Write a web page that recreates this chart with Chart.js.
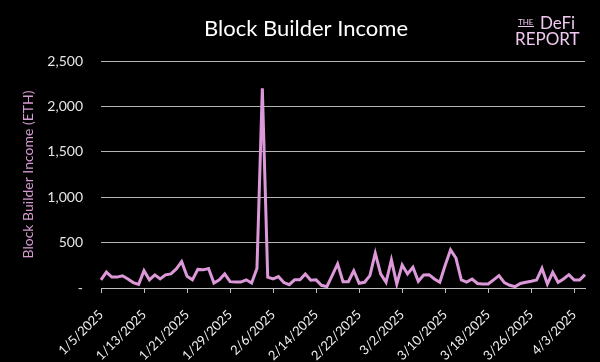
<!DOCTYPE html>
<html>
<head>
<meta charset="utf-8">
<script src="https://cdn.jsdelivr.net/npm/chart.js@4.4.1/dist/chart.umd.min.js"></script>
<style>
  html, body { margin: 0; padding: 0; background: #000; }
  #wrap { width: 600px; height: 362px; }
</style>
</head>
<body>
<div id="wrap"><canvas id="chart" width="600" height="362"></canvas></div>
<script>
// Fechas (una por día, 5 de enero a 5 de abril de 2025)
const dates = [
  '1/5/2025','1/6/2025','1/7/2025','1/8/2025','1/9/2025','1/10/2025','1/11/2025','1/12/2025',
  '1/13/2025','1/14/2025','1/15/2025','1/16/2025','1/17/2025','1/18/2025','1/19/2025','1/20/2025',
  '1/21/2025','1/22/2025','1/23/2025','1/24/2025','1/25/2025','1/26/2025','1/27/2025','1/28/2025',
  '1/29/2025','1/30/2025','1/31/2025','2/1/2025','2/2/2025','2/3/2025','2/4/2025','2/5/2025',
  '2/6/2025','2/7/2025','2/8/2025','2/9/2025','2/10/2025','2/11/2025','2/12/2025','2/13/2025',
  '2/14/2025','2/15/2025','2/16/2025','2/17/2025','2/18/2025','2/19/2025','2/20/2025','2/21/2025',
  '2/22/2025','2/23/2025','2/24/2025','2/25/2025','2/26/2025','2/27/2025','2/28/2025','3/1/2025',
  '3/2/2025','3/3/2025','3/4/2025','3/5/2025','3/6/2025','3/7/2025','3/8/2025','3/9/2025',
  '3/10/2025','3/11/2025','3/12/2025','3/13/2025','3/14/2025','3/15/2025','3/16/2025','3/17/2025',
  '3/18/2025','3/19/2025','3/20/2025','3/21/2025','3/22/2025','3/23/2025','3/24/2025','3/25/2025',
  '3/26/2025','3/27/2025','3/28/2025','3/29/2025','3/30/2025','3/31/2025','4/1/2025','4/2/2025',
  '4/3/2025','4/4/2025','4/5/2025'
];

// Ingresos diarios del block builder (ETH)
const income = [
  90, 175, 120, 120, 135, 100, 60, 40,
  190, 90, 145, 100, 145, 155, 210, 290,
  130, 90, 205, 200, 215, 55, 90, 155,
  70, 65, 65, 90, 55, 215, 2200, 120,
  100, 125, 60, 36, 90, 90, 155, 85,
  90, 30, 15, 140, 265, 70, 70, 190,
  52, 63, 136, 383, 155, 63, 309, 44,
  254, 155, 228, 74, 144, 147, 100, 63,
  250, 420, 330, 90, 65, 99, 50, 44,
  44, 90, 136, 60, 30, 15, 50, 63,
  74, 88, 217, 44, 173, 63, 100, 147,
  88, 88, 147
];

// Eje Y
const yTicks = [0, 500, 1000, 1500, 2000, 2500];
const labelEvery = 8;

const chartTitle = 'Block Builder Income';
const yTitle = 'Block Builder Income (ETH)';

// Fondo negro, título y logo
const decor = {
  id: 'decor',
  beforeDraw(chart) {
    const { ctx, width, height } = chart;
    ctx.save();
    ctx.fillStyle = '#000';
    ctx.fillRect(0, 0, width, height);
    ctx.restore();
  },
  afterDraw(chart) {
    const { ctx } = chart;
    ctx.save();
    ctx.fillStyle = '#ffffff';
    ctx.font = '22px Lato';
    ctx.textAlign = 'center';
    ctx.textBaseline = 'middle';
    ctx.fillText(chartTitle, 306, 29);

    // logo "THE DeFi REPORT"
    ctx.fillStyle = '#efc9ef';
    ctx.textAlign = 'left';
    ctx.textBaseline = 'alphabetic';
    ctx.font = '8px Lato';
    ctx.fillText('THE', 518, 25);
    ctx.fillRect(518, 26, 16, 1);
    ctx.font = '17px Lato';
    ctx.fillText('DeFi', 540, 29);
    ctx.fillText('REPORT', 515, 45);
    ctx.restore();
  }
};

new Chart(document.getElementById('chart').getContext('2d'), {
  type: 'line',
  data: {
    labels: dates,
    datasets: [{
      label: 'Block Builder Income',
      data: income,
      borderColor: '#dc98d8',
      borderWidth: 3,
      pointRadius: 0,
      tension: 0,
      fill: false
    }]
  },
  options: {
    responsive: false,
    animation: false,
    layout: { padding: { top: 61, right: 15, bottom: 0, left: 0 } },
    plugins: {
      legend: { display: false },
      tooltip: { enabled: false }
    },
    scales: {
      x: {
        ticks: {
          autoSkip: false,
          maxRotation: 45,
          minRotation: 45,
          color: '#f0f0f0',
          font: { family: 'Lato', size: 13 },
          padding: 14,
          callback: function (v, i) {
            return i % labelEvery === 0 ? this.getLabelForValue(v) : null;
          }
        },
        grid: { drawOnChartArea: false, drawTicks: true, tickLength: 5, color: '#bfbfbf' },
        border: { display: true, color: '#bfbfbf', width: 1 },
        afterFit: s => { s.height = 74; }
      },
      y: {
        min: 0,
        max: 2500,
        afterBuildTicks: s => { s.ticks = yTicks.map(v => ({ value: v })); },
        ticks: {
          color: '#e6e6e6',
          font: { family: 'Lato', size: 14 },
          padding: 18,
          callback: v => v === 0 ? '-' : v.toLocaleString('en-US')
        },
        grid: { color: '#b4b4b4', lineWidth: 1, drawTicks: false },
        border: { display: false },
        title: {
          display: true,
          text: yTitle,
          color: '#d69ad2',
          font: { family: 'Lato', size: 14 },
          padding: { top: 20, bottom: 0 }
        },
        afterFit: s => { s.width = 101; }
      }
    }
  },
  plugins: [decor]
});
</script>
</body>
</html>
